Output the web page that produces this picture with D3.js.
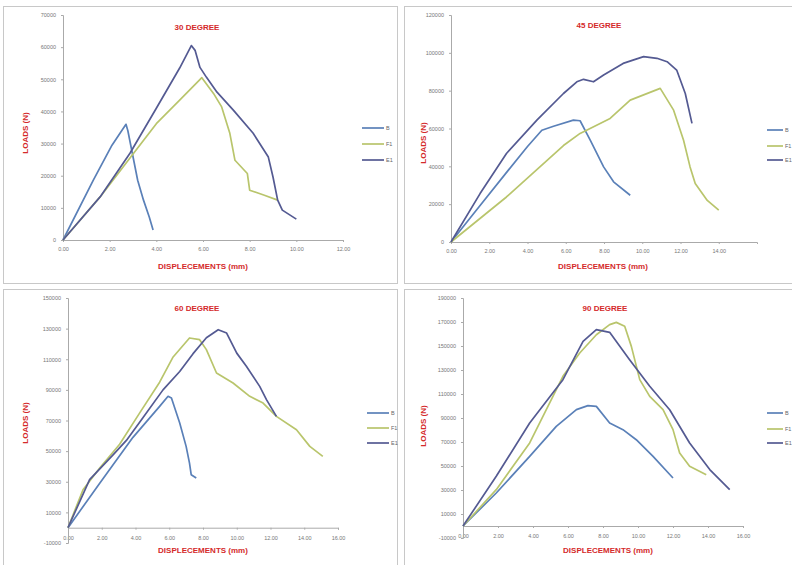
<!DOCTYPE html>
<html>
<head>
<meta charset="utf-8">
<script src="https://cdn.jsdelivr.net/npm/d3@7"></script>
<style>
  body { margin: 0; background: #fff; }
  svg { display: block; font-family: 'Liberation Sans', Arial, sans-serif; }
  .tick text { fill: #777; font-size: 5.5px; }
  .domain, .tick line { stroke: #aaa; }
</style>
</head>
<body>
<div class="chart"></div>
<script>
// series names in the legends
const seriesNames = ['B', 'F1', 'E1'];

// 30 degree  [displacement mm, load N]
const p30B = [[0,0],[1.3,18600],[2.1,29500],[2.7,36000],[2.78,34000],[3.2,18600],[3.45,12400],[3.7,7100],[3.86,3100]];
const p30F = [[0,0],[1.59,13400],[2.87,25500],[4.0,36200],[5.0,43500],[5.95,50500],[6.45,45600],[6.8,41400],[7.15,33200],[7.37,24800],[7.9,20700],[8.0,15500],[8.6,14000],[9.2,12400]];
const p30E = [[0,0],[1.59,13400],[2.87,27000],[4.0,41000],[5.0,53500],[5.5,60500],[5.66,59000],[5.87,53700],[6.15,50600],[6.6,46000],[7.3,40400],[8.15,33200],[8.8,25800],[9.0,19600],[9.2,12400],[9.4,9300],[10.0,6500]];

// 45 degree
const p45B = [[0,0],[1.5,19000],[3.0,38000],[4.0,50500],[4.75,59100],[5.36,61200],[6.4,64400],[6.75,64100],[7.28,53800],[7.98,39700],[8.5,31800],[9.37,24700]];
const p45F = [[0,0],[2.9,23800],[5.88,51000],[6.75,57400],[8.32,65300],[9.37,75000],[10.94,81200],[11.64,69700],[12.16,53800],[12.5,39700],[12.77,30900],[13.4,22000],[14.0,16800]];
const p45E = [[0,0],[1.52,25600],[2.9,46800],[4.49,64400],[5.88,78500],[6.58,84700],[6.93,86000],[7.45,84700],[7.98,88300],[9.0,94400],[10.07,98000],[10.77,97100],[11.3,95300],[11.8,90900],[12.25,78500],[12.6,62700]];

// 60 degree
const p60B = [[0,0],[1.88,29000],[3.85,59000],[5.43,79200],[5.93,85800],[6.13,84700],[6.62,68400],[7.0,53100],[7.2,42200],[7.3,34600],[7.6,32400]];
const p60F = [[0,0],[0.89,24800],[1.88,39000],[3.06,54500],[4.25,75000],[5.43,95000],[6.23,111500],[7.2,123900],[7.8,122800],[8.2,116300],[8.8,101000],[9.78,94500],[10.77,85800],[11.56,81400],[12.35,72700],[13.54,64000],[14.33,53100],[15.1,46600]];
const p60E = [[0,0],[1.28,31400],[2.67,47500],[3.46,57000],[4.45,72000],[5.63,90000],[6.62,102000],[7.4,113500],[8.2,124000],[8.9,129300],[9.4,127100],[10.0,114000],[10.57,105400],[11.36,92300],[11.76,83600],[12.35,72700]];

// 90 degree
const p90B = [[0,0],[1.9,27500],[3.81,58000],[5.33,83000],[6.48,97000],[7.14,100300],[7.62,99700],[8.38,85800],[9.14,80300],[9.9,71900],[10.86,58000],[12.0,40000]];
const p90F = [[0,0],[1.9,30300],[3.81,69200],[4.76,97000],[5.71,124700],[6.67,144200],[7.62,159400],[8.38,167800],[8.76,169700],[9.24,166400],[9.62,149700],[10.1,122000],[10.67,108000],[11.43,97000],[12.0,80300],[12.38,60800],[12.95,49700],[13.9,42800]];
const p90E = [[0,0],[1.9,41400],[3.81,85800],[5.71,121900],[6.86,153900],[7.62,163600],[8.38,161400],[9.52,138600],[10.67,116400],[11.81,96900],[12.95,69200],[14.1,47000],[15.24,30300]];

// tick values
const xTicks12 = [0, 2, 4, 6, 8, 10, 12];
const xTicks14 = [0, 2, 4, 6, 8, 10, 12, 14];
const xTicks16 = [0, 2, 4, 6, 8, 10, 12, 14, 16];
const yTicks30 = [0, 10000, 20000, 30000, 40000, 50000, 60000, 70000];
const yTicks45 = [0, 20000, 40000, 60000, 80000, 100000, 120000];
const yTicks60 = [-10000, 10000, 30000, 50000, 70000, 90000, 110000, 130000, 150000];
const yTicks90 = [-10000, 10000, 30000, 50000, 70000, 90000, 110000, 130000, 150000, 170000, 190000];

const colors = ['#5a80b8', '#b9c56c', '#545a92'];

const panels = [
    { title: '30 DEGREE', series: [p30B, p30F, p30E], xDomain: [0, 12], xTicks: xTicks12, yDomain: [0, 70000], yTicks: yTicks30,
      xr: [63, 343], yr: [240, 15], frame: [3, 6, 394, 277], titleY: 30, titleX: 197, yLab: [25, 133], xLab: [203, 269], legX: 362, legLen: 22, legY: [128, 144, 160] },
    { title: '45 DEGREE', series: [p45B, p45F, p45E], xDomain: [0, 16], xTicks: xTicks14, yDomain: [0, 120000], yTicks: yTicks45,
      xr: [451, 757], yr: [242, 15], frame: [404, 6, 392, 277], titleY: 28, titleX: 599, yLab: [423, 143], xLab: [603, 269], legX: 767, legLen: 16, legY: [130, 146, 160] },
    { title: '60 DEGREE', series: [p60B, p60F, p60E], xDomain: [0, 16], xTicks: xTicks16, yDomain: [-10000, 150000], yTicks: yTicks60,
      xr: [68, 338], yr: [543, 298], frame: [3, 289, 394, 276], titleY: 311, titleX: 197, yLab: [25, 423], xLab: [203, 553], legX: 367, legLen: 22, legY: [413, 428, 443] },
    { title: '90 DEGREE', series: [p90B, p90F, p90E], xDomain: [0, 16], xTicks: xTicks16, yDomain: [-10000, 190000], yTicks: yTicks90,
      xr: [463, 743], yr: [538, 298], frame: [404, 289, 392, 276], titleY: 311, titleX: 605, yLab: [423, 426], xLab: [608, 553], legX: 767, legLen: 16, legY: [413, 429, 443] }
];

const svg = d3.select('.chart').append('svg')
    .attr('width', 792)
    .attr('height', 565);

svg.append('rect').attr('width', 792).attr('height', 565).attr('fill', '#fff');

panels.forEach(p => {
    const g = svg.append('g');

    g.append('rect')
        .attr('x', p.frame[0] + 0.5).attr('y', p.frame[1] + 0.5)
        .attr('width', p.frame[2]).attr('height', p.frame[3])
        .attr('fill', '#fff')
        .attr('stroke', '#c8c8c8');

    const x = d3.scaleLinear().domain(p.xDomain).range(p.xr);
    const y = d3.scaleLinear().domain(p.yDomain).range(p.yr);

    // x axis sits on load = 0
    const xAxis = d3.axisBottom(x).tickValues(p.xTicks).tickSize(2).tickFormat(d3.format('.2f'));
    const gx = g.append('g')
        .attr('transform', `translate(0,${y(0)})`)
        .call(xAxis);
    gx.selectAll('.tick text').attr('dy', p.yDomain[0] < 0 ? '1.3em' : '1.1em');

    const yAxis = d3.axisLeft(y).tickValues(p.yTicks).tickSize(2).tickFormat(d => d);
    g.append('g')
        .attr('transform', `translate(${p.xr[0]},0)`)
        .call(yAxis)
        .selectAll('.tick text').attr('dx', '-2');

    const line = d3.line()
        .x(d => x(d[0]))
        .y(d => y(d[1]));

    p.series.forEach((s, i) => {
        g.append('path')
            .datum(s)
            .attr('fill', 'none')
            .attr('stroke', colors[i])
            .attr('stroke-width', 1.7)
            .attr('stroke-linejoin', 'round')
            .attr('d', line);
    });

    // labels
    g.append('text')
        .attr('x', p.titleX).attr('y', p.titleY)
        .attr('text-anchor', 'middle')
        .style('font-size', '8px').style('font-weight', 'bold')
        .style('fill', '#d42a2a')
        .text(p.title);

    g.append('text')
        .attr('transform', `translate(${p.yLab[0]},${p.yLab[1]}) rotate(-90)`)
        .attr('text-anchor', 'middle')
        .attr('dy', '0.35em')
        .style('font-size', '8px').style('font-weight', 'bold')
        .style('fill', '#d42a2a')
        .text('LOADS (N)');

    g.append('text')
        .attr('x', p.xLab[0]).attr('y', p.xLab[1])
        .attr('text-anchor', 'middle')
        .style('font-size', '8px').style('font-weight', 'bold')
        .style('fill', '#d42a2a')
        .text('DISPLECEMENTS (mm)');

    // legend
    seriesNames.forEach((name, i) => {
        g.append('line')
            .attr('x1', p.legX).attr('x2', p.legX + p.legLen)
            .attr('y1', p.legY[i]).attr('y2', p.legY[i])
            .attr('stroke', colors[i])
            .attr('stroke-width', 1.7);
        g.append('text')
            .attr('x', p.legX + p.legLen + 2).attr('y', p.legY[i])
            .attr('dy', '0.35em')
            .style('font-size', '5.5px')
            .style('fill', '#666')
            .text(name);
    });
});
</script>
</body>
</html>
